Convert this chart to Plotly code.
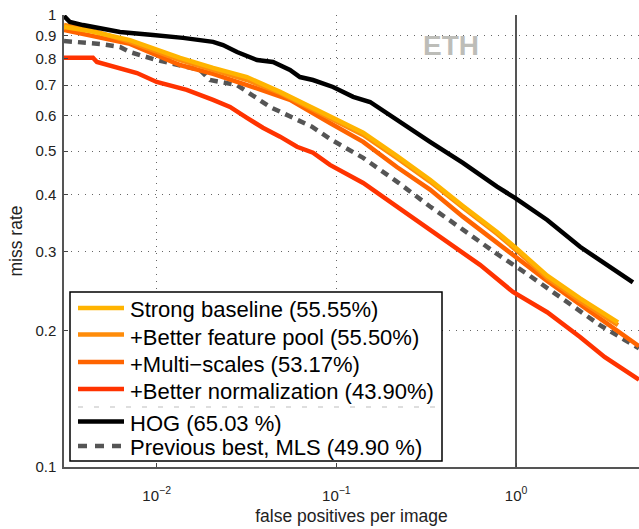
import plotly.graph_objects as go
import math

# ---------------- data (false positives per image, miss rate) ----------------
hog_fppi = [0.00305, 0.00329, 0.00389, 0.00484, 0.00625, 0.00954, 0.0140, 0.0206, 0.0234, 0.0280,
            0.0362, 0.0444, 0.0552, 0.0627, 0.0741, 0.0958, 0.124, 0.154, 0.217, 0.332, 0.506,
            0.783, 0.986, 1.49, 2.27, 3.46, 4.47]
hog_mr = [0.995, 0.965, 0.950, 0.936, 0.917, 0.903, 0.890, 0.872, 0.858, 0.828,
          0.795, 0.787, 0.756, 0.729, 0.718, 0.693, 0.659, 0.642, 0.586, 0.524, 0.471,
          0.417, 0.394, 0.352, 0.307, 0.273, 0.256]

strong_fppi = [0.00305, 0.00425, 0.0071, 0.0135, 0.0206, 0.0318, 0.0486, 0.0741, 0.0921, 0.141,
               0.217, 0.332, 0.506, 0.783, 1.01, 1.49, 2.27, 3.69]
strong_mr = [0.941, 0.922, 0.880, 0.804, 0.764, 0.729, 0.676, 0.623, 0.595, 0.549,
             0.488, 0.432, 0.378, 0.331, 0.304, 0.265, 0.236, 0.209]

pool_fppi = [0.00305, 0.00425, 0.0071, 0.0135, 0.0206, 0.0318, 0.0486, 0.0741, 0.0921, 0.141,
             0.217, 0.332, 0.506, 0.783, 1.01, 1.49, 2.27, 3.69]
pool_mr = [0.950, 0.927, 0.872, 0.795, 0.756, 0.718, 0.672, 0.617, 0.589, 0.543,
           0.483, 0.428, 0.375, 0.328, 0.301, 0.262, 0.233, 0.206]

multi_fppi = [0.00305, 0.00484, 0.0071, 0.0135, 0.0206, 0.0318, 0.0552, 0.0921, 0.141, 0.217,
              0.332, 0.506, 0.783, 0.961, 1.49, 2.27, 3.46, 4.83]
multi_mr = [0.927, 0.894, 0.863, 0.775, 0.741, 0.700, 0.649, 0.577, 0.524, 0.461,
            0.411, 0.358, 0.313, 0.295, 0.258, 0.229, 0.203, 0.185]

norm_fppi = [0.00305, 0.00442, 0.00465, 0.00571, 0.00777, 0.0100, 0.0147, 0.0206, 0.0256, 0.0318,
             0.0390, 0.0486, 0.0604, 0.0741, 0.0921, 0.141, 0.217, 0.332, 0.506, 0.630,
             0.961, 1.49, 2.27, 3.12, 4.83]
norm_mr = [0.804, 0.804, 0.787, 0.768, 0.744, 0.711, 0.683, 0.649, 0.626, 0.592,
           0.563, 0.538, 0.511, 0.496, 0.466, 0.425, 0.377, 0.335, 0.298, 0.280,
           0.244, 0.220, 0.194, 0.175, 0.156]

mls_fppi = [0.00305, 0.00484, 0.00625, 0.0071, 0.0100, 0.0135, 0.0174, 0.0198, 0.0280, 0.0427,
            0.0731, 0.0921, 0.141, 0.217, 0.332, 0.506, 0.783, 1.19, 1.82, 2.93, 4.83]
mls_mr = [0.876, 0.863, 0.850, 0.828, 0.795, 0.775, 0.756, 0.718, 0.700, 0.626,
          0.566, 0.532, 0.483, 0.428, 0.377, 0.335, 0.296, 0.265, 0.236, 0.206, 0.183]

legend_labels = ["Strong baseline (55.55%)", "+Better feature pool (55.50%)",
                 "+Multi\u2212scales (53.17%)", "+Better normalization (43.90%)",
                 "HOG (65.03 %)", "Previous best, MLS (49.90 %)"]

y_ticks = [0.1, 0.2, 0.3, 0.4, 0.5, 0.6, 0.7, 0.8, 0.9, 1]
y_ticktext = ["0.1", "0.2", "0.3", "0.4", "0.5", "0.6", "0.7", "0.8", "0.9", "1"]
x_ticks = [0.01, 0.1, 1]
x_ticktext = ["10<sup>\u22122</sup>", "10<sup>\u22121</sup>", "10<sup>0</sup>"]
x_refline = [1]

# ---------------- styling ----------------
W, H = 639, 529
ML, MR, MT, MB = 64, 0, 15, 62
FONT = "Liberation Sans, Arial, Helvetica, sans-serif"
XRANGE = [math.log10(0.00305), math.log10(0.00305) + 3.1998]

colors = ["#FFB400", "#FF8C0A", "#FF6400", "#FF3300", "#000000", "#555555"]
series = [(strong_fppi, strong_mr), (pool_fppi, pool_mr), (multi_fppi, multi_mr),
          (norm_fppi, norm_mr), (hog_fppi, hog_mr), (mls_fppi, mls_mr)]

fig = go.Figure()
draw_order = [5, 4, 3, 2, 1, 0]
for i in draw_order:
    xs, ys = series[i]
    fig.add_trace(go.Scatter(
        x=xs, y=ys, mode="lines",
        xaxis="x2" if i == 4 else "x",
        line=dict(color=colors[i], width=4.5,
                  dash="8px,6px" if i == 5 else "solid"),
        showlegend=False, hoverinfo="skip"))

pw = W - ML - MR
ph = H - MT - MB


def px(xp):
    return (xp - ML) / pw


def py(yp):
    return (H - MB - yp) / ph


shapes = []
annotations = []

# legend box
shapes.append(dict(type="rect", xref="paper", yref="paper",
                   x0=px(70), x1=px(442), y0=py(461), y1=py(292),
                   line=dict(color="black", width=1.5), fillcolor="white", layer="above"))
rows = [308, 334.5, 362, 389, 421.5, 446]
text_rows = [309.5, 337, 364.5, 391.5, 423, 447.5]
for i, (r, tr) in enumerate(zip(rows, text_rows)):
    shapes.append(dict(type="line", xref="paper", yref="paper",
                       x0=px(78), x1=px(124), y0=py(r), y1=py(r), layer="above",
                       line=dict(color=colors[i], width=4.5,
                                 dash="9px,8px" if i == 5 else "solid")))
    annotations.append(dict(xref="paper", yref="paper", x=px(127.5), y=py(tr),
                            xanchor="left", yanchor="middle", showarrow=False,
                            text=legend_labels[i],
                            font=dict(family=FONT, size=22, color="black")))
# separator
shapes.append(dict(type="line", xref="paper", yref="paper",
                   x0=px(78), x1=px(436), y0=py(407), y1=py(407), layer="above",
                   line=dict(color="#bdbdbd", width=1, dash="5px,11px")))

# ETH label
annotations.append(dict(xref="paper", yref="paper", x=px(451), y=py(45),
                        xanchor="center", yanchor="middle", showarrow=False,
                        text="<b>ETH</b>",
                        font=dict(family=FONT, size=28, color="#bdbdb8")))

fig.update_layout(
    width=W, height=H,
    margin=dict(l=ML, r=MR, t=MT, b=MB, pad=0),
    paper_bgcolor="white", plot_bgcolor="white",
    font=dict(family=FONT, color="#222222"),
    shapes=shapes, annotations=annotations,
    showlegend=False,
    xaxis2=dict(type="log", range=XRANGE, overlaying="x", side="bottom",
                tickmode="array", tickvals=x_refline, showticklabels=False,
                ticks="", showline=False, zeroline=False,
                showgrid=True, gridcolor="#555555", gridwidth=1.5, griddash="solid"),
)

fig.layout.xaxis.update(
    type="log", range=XRANGE,
    tickmode="array", tickvals=x_ticks, ticktext=x_ticktext,
    ticks="inside", ticklen=4, tickcolor="#444444",
    tickfont=dict(family=FONT, size=15, color="#222222"),
    ticklabelstandoff=14,
    showline=True, linecolor="#555555", linewidth=1.5, mirror=False,
    showgrid=True, gridcolor="#666666", gridwidth=1, griddash="1px,6px",
    zeroline=False,
    title=dict(text="false positives per image",
               font=dict(family=FONT, size=17.5, color="#222222"), standoff=7),
)
fig.update_yaxes(
    type="log", range=[-1, 0],
    tickmode="array", tickvals=y_ticks, ticktext=y_ticktext,
    ticks="inside", ticklen=4, tickcolor="#444444",
    tickfont=dict(family=FONT, size=15, color="#222222"),
    ticklabelstandoff=3,
    showline=True, linecolor="#555555", linewidth=1.5, mirror=False,
    showgrid=True, gridcolor="#666666", gridwidth=1, griddash="1px,6px",
    zeroline=False,
    title=dict(text="miss rate",
               font=dict(family=FONT, size=17.5, color="#222222"), standoff=8),
)

fig.write_html("out.html")
